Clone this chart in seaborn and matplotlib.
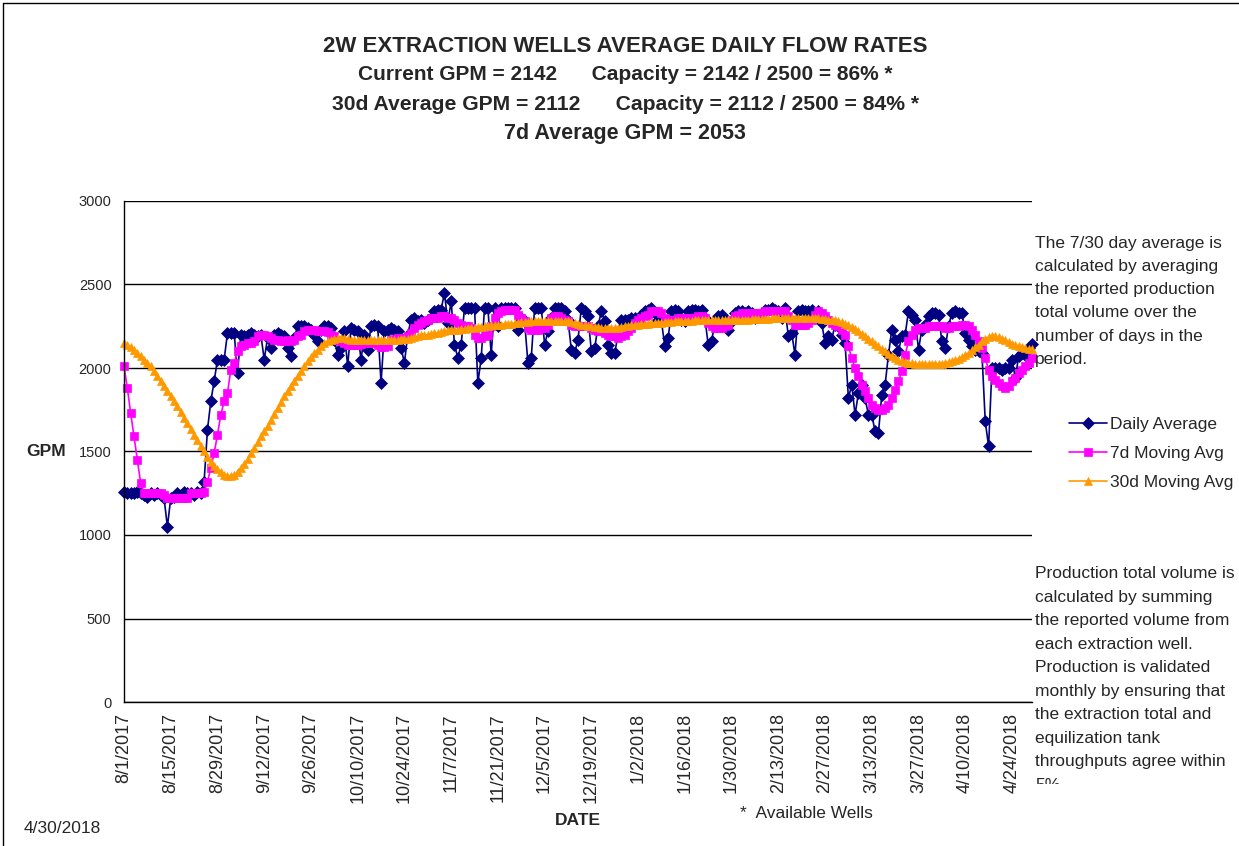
# 2W extraction wells - average daily flow rates (daily, 7d and 30d moving averages)

import numpy as np
import pandas as pd
import matplotlib
matplotlib.use("Agg")
import matplotlib.pyplot as plt
import seaborn as sns

# ------------------------------------------------------------
# DATA  (one value per day, 8/1/2017 .. 4/30/2018)
# ------------------------------------------------------------
daily_avg = [
    1260, 1250, 1250, 1250, 1260, 1250, 1240, 1230, 1250, 1240, 1250, 1240, 1220, 1050,
    1220, 1230, 1250, 1240, 1260, 1250, 1250, 1240, 1260, 1250, 1320, 1630, 1800, 1920,
    2050, 2050, 2050, 2210, 2210, 2210, 1970, 2200, 2190, 2200, 2210, 2200, 2190, 2200,
    2050, 2180, 2120, 2200, 2210, 2200, 2190, 2120, 2070, 2180, 2250, 2250, 2250, 2240,
    2230, 2200, 2160, 2230, 2250, 2250, 2240, 2170, 2080, 2120, 2220, 2010, 2240, 2230,
    2220, 2050, 2200, 2110, 2250, 2260, 2250, 1910, 2220, 2230, 2240, 2230, 2220, 2120,
    2030, 2200, 2290, 2300, 2280, 2290, 2270, 2290, 2300, 2340, 2350, 2350, 2450, 2270,
    2400, 2140, 2060, 2140, 2360, 2360, 2360, 2360, 1910, 2060, 2360, 2360, 2080, 2360,
    2250, 2360, 2360, 2360, 2360, 2360, 2230, 2300, 2280, 2030, 2060, 2360, 2360, 2360,
    2140, 2220, 2300, 2360, 2360, 2360, 2340, 2290, 2110, 2090, 2170, 2360, 2340, 2310,
    2100, 2120, 2250, 2340, 2280, 2140, 2090, 2090, 2200, 2290, 2290, 2290, 2300, 2300,
    2290, 2320, 2340, 2350, 2360, 2330, 2290, 2280, 2130, 2180, 2340, 2350, 2340, 2290,
    2280, 2340, 2350, 2350, 2340, 2350, 2300, 2140, 2160, 2270, 2310, 2320, 2280, 2230,
    2280, 2330, 2340, 2340, 2330, 2340, 2330, 2300, 2310, 2330, 2350, 2350, 2360, 2350,
    2340, 2300, 2360, 2190, 2210, 2080, 2340, 2350, 2340, 2340, 2350, 2330, 2340, 2270,
    2150, 2190, 2170, 2260, 2250, 2200, 2150, 1820, 1900, 1720, 1850, 1900, 1820, 1720,
    1720, 1620, 1610, 1840, 1900, 2080, 2230, 2170, 2100, 2190, 2200, 2340, 2320, 2290,
    2110, 2230, 2260, 2310, 2330, 2330, 2320, 2160, 2120, 2250, 2330, 2340, 2330, 2330,
    2210, 2170, 2130, 2110, 2100, 2090, 1680, 1530, 2000, 2000, 2000, 1990, 2000, 2000,
    2050, 1940, 2070, 2090, 2080, 2120, 2142,
]

avg_7d = [
    2010, 1880, 1730, 1590, 1450, 1310, 1250, 1250, 1250, 1250, 1250, 1250, 1240, 1220,
    1220, 1220, 1220, 1220, 1220, 1220, 1250, 1250, 1250, 1250, 1260, 1320, 1400, 1490,
    1600, 1720, 1800, 1850, 1990, 2030, 2100, 2130, 2140, 2150, 2150, 2160, 2190, 2200,
    2200, 2190, 2180, 2170, 2165, 2160, 2160, 2165, 2160, 2170, 2190, 2200, 2220, 2230,
    2230, 2225, 2220, 2220, 2220, 2215, 2200, 2190, 2170, 2160, 2150, 2140, 2135, 2135,
    2140, 2145, 2150, 2150, 2150, 2150, 2140, 2125, 2125, 2130, 2170, 2175, 2180, 2180,
    2180, 2190, 2210, 2240, 2260, 2270, 2280, 2290, 2300, 2300, 2300, 2310, 2310, 2300,
    2300, 2290, 2270, 2260, 2250, 2250, 2240, 2200, 2180, 2180, 2190, 2200, 2250, 2300,
    2330, 2340, 2350, 2350, 2350, 2350, 2320, 2300, 2280, 2240, 2230, 2230, 2230, 2240,
    2240, 2260, 2300, 2310, 2310, 2300, 2290, 2280, 2260, 2250, 2250, 2250, 2250, 2250,
    2240, 2230, 2220, 2220, 2210, 2200, 2190, 2190, 2180, 2190, 2200, 2220, 2240, 2270,
    2290, 2300, 2310, 2320, 2340, 2340, 2340, 2330, 2300, 2290, 2290, 2290, 2300, 2300,
    2300, 2300, 2300, 2300, 2310, 2310, 2300, 2270, 2250, 2240, 2240, 2240, 2250, 2260,
    2290, 2310, 2320, 2330, 2330, 2330, 2330, 2330, 2330, 2330, 2340, 2340, 2340, 2340,
    2340, 2340, 2340, 2310, 2290, 2260, 2260, 2260, 2260, 2270, 2290, 2320, 2340, 2330,
    2310, 2290, 2270, 2260, 2250, 2230, 2200, 2130, 2060, 2000, 1950, 1900, 1860, 1820,
    1780, 1760, 1750, 1750, 1760, 1780, 1820, 1870, 1920, 1980, 2080, 2160, 2200, 2230,
    2240, 2240, 2240, 2250, 2250, 2250, 2250, 2250, 2240, 2240, 2250, 2250, 2250, 2260,
    2260, 2250, 2230, 2200, 2160, 2120, 2060, 1990, 1950, 1930, 1910, 1890, 1880, 1890,
    1920, 1940, 1970, 1990, 2010, 2030, 2060,
]

avg_30d = [
    2150, 2140, 2125, 2110, 2090, 2070, 2050, 2030, 2010, 1985, 1955, 1925, 1895, 1865,
    1835, 1800, 1770, 1735, 1700, 1670, 1635, 1600, 1570, 1535, 1500, 1470, 1440, 1415,
    1395, 1375, 1360, 1355, 1355, 1360, 1380, 1400, 1425, 1455, 1490, 1520, 1555, 1590,
    1620, 1655, 1690, 1725, 1760, 1795, 1830, 1865, 1895, 1925, 1955, 1985, 2010, 2040,
    2065, 2090, 2110, 2130, 2150, 2160, 2170, 2175, 2180, 2180, 2180, 2175, 2170, 2165,
    2165, 2165, 2165, 2165, 2165, 2165, 2165, 2165, 2165, 2170, 2170, 2170, 2170, 2175,
    2175, 2175, 2180, 2185, 2190, 2195, 2195, 2200, 2205, 2210, 2210, 2215, 2220, 2225,
    2225, 2230, 2230, 2235, 2235, 2240, 2240, 2240, 2245, 2245, 2250, 2250, 2255, 2255,
    2260, 2260, 2265, 2265, 2265, 2270, 2270, 2275, 2275, 2275, 2280, 2280, 2280, 2280,
    2280, 2280, 2280, 2280, 2280, 2280, 2280, 2280, 2275, 2270, 2265, 2260, 2255, 2250,
    2250, 2245, 2245, 2240, 2240, 2240, 2240, 2240, 2240, 2245, 2250, 2250, 2255, 2260,
    2260, 2265, 2265, 2265, 2270, 2270, 2270, 2270, 2275, 2275, 2275, 2280, 2280, 2280,
    2280, 2280, 2280, 2285, 2285, 2285, 2285, 2285, 2285, 2285, 2285, 2285, 2290, 2290,
    2290, 2290, 2290, 2290, 2290, 2290, 2295, 2295, 2295, 2295, 2295, 2295, 2300, 2300,
    2300, 2300, 2300, 2300, 2300, 2300, 2300, 2300, 2300, 2300, 2300, 2300, 2300, 2295,
    2295, 2290, 2290, 2285, 2280, 2275, 2265, 2255, 2245, 2235, 2220, 2205, 2190, 2175,
    2160, 2145, 2130, 2115, 2100, 2085, 2070, 2060, 2050, 2040, 2035, 2030, 2030, 2025,
    2025, 2025, 2025, 2025, 2025, 2025, 2025, 2025, 2030, 2035, 2040, 2045, 2055, 2065,
    2075, 2090, 2105, 2125, 2140, 2160, 2175, 2185, 2190, 2190, 2185, 2175, 2165, 2155,
    2145, 2140, 2130, 2125, 2120, 2115, 2112,
]

date_ticks = [
    "8/1/2017", "8/15/2017", "8/29/2017", "9/12/2017", "9/26/2017",
    "10/10/2017", "10/24/2017", "11/7/2017", "11/21/2017", "12/5/2017",
    "12/19/2017", "1/2/2018", "1/16/2018", "1/30/2018", "2/13/2018",
    "2/27/2018", "3/13/2018", "3/27/2018", "4/10/2018", "4/24/2018",
]

title_lines = [
    "2W EXTRACTION WELLS AVERAGE DAILY FLOW RATES",
    "Current GPM = 2142      Capacity = 2142 / 2500 = 86% *",
    "30d Average GPM = 2112      Capacity = 2112 / 2500 = 84% *",
    "7d Average GPM = 2053",
]

note_avg = ("The 7/30 day average is\ncalculated by averaging\nthe reported production\n"
            "total volume over the\nnumber of days in the\nperiod.")
note_volume = ("Production total volume is\ncalculated by summing\nthe reported volume from\n"
               "each extraction well.\nProduction is validated\nmonthly by ensuring that\n"
               "the extraction total and\nequilization tank\nthroughputs agree within\n5%")

df = pd.DataFrame({
    "day": np.arange(len(daily_avg)),
    "Daily Average": daily_avg,
    "7d Moving Avg": avg_7d,
    "30d Moving Avg": avg_30d,
})

# ------------------------------------------------------------
# FIGURE
# ------------------------------------------------------------
sns.set_style("white")
plt.rcParams['font.family'] = ['Liberation Sans', 'DejaVu Sans']

W, H = 1239, 846
fig = plt.figure(figsize=(W / 100, H / 100), dpi=100)
ax = fig.add_axes([124 / W, (H - 702) / H, (1032 - 124) / W, (702 - 201) / H])

series = [
    ("Daily Average", "#000080", "D", 6.3),
    ("7d Moving Avg", "#FF00FF", "s", 5.5),
    ("30d Moving Avg", "#FF9900", "^", 6.0),
]
for name, color, marker, ms in series:
    sns.lineplot(data=df, x="day", y=name, ax=ax, color=color, linewidth=1.2,
                 marker=marker, markersize=ms, markeredgecolor=color,
                 markeredgewidth=0.5, label=name, clip_on=False)

ax.set_xlim(0, len(daily_avg) - 1)
ax.set_ylim(0, 3000)
ax.set_yticks(range(0, 3001, 500))
ax.set_xticks(range(0, 14 * len(date_ticks), 14))
ax.set_xticklabels(date_ticks, rotation=90, fontsize=13)
ax.tick_params(axis='y', labelsize=10.5, length=8, width=1, direction='out', pad=1)
ax.tick_params(axis='x', length=6, width=1, direction='out', pad=2)
ax.set_xlabel("")
ax.set_ylabel("")

ax.yaxis.grid(True, color='black', linewidth=1)
ax.xaxis.grid(False)
ax.set_axisbelow(True)
for side in ['top', 'right']:
    ax.spines[side].set_visible(False)
for side in ['left', 'bottom']:
    ax.spines[side].set_color('black')
    ax.spines[side].set_linewidth(1)

ax.legend(loc='upper left', bbox_to_anchor=(1069 / W, 1 - 417 / H),
          bbox_transform=fig.transFigure, frameon=False, fontsize=12.5,
          handlelength=2.2, handletextpad=0.15, labelspacing=0.8,
          borderpad=0, borderaxespad=0)

# ------------------------------------------------------------
# TEXT
# ------------------------------------------------------------
title_y = [46, 75, 104, 133]
title_size = [16, 15, 15.2, 15.5]
for line, y, fs in zip(title_lines, title_y, title_size):
    fig.text(625 / W, 1 - y / H, line, ha='center', va='center',
             fontsize=fs, fontweight='bold')

fig.text(46 / W, 1 - 451 / H, "GPM", ha='center', va='center',
         fontsize=12.5, fontweight='bold')
fig.text(578 / W, 1 - 820 / H, "DATE", ha='center', va='center',
         fontsize=12.5, fontweight='bold')
fig.text(740 / W, 1 - 813 / H, "*  Available Wells", ha='left', va='center',
         fontsize=12.5)
fig.text(24 / W, 1 - 828 / H, "4/30/2018", ha='left', va='center', fontsize=12.5)

fig.text(1035 / W, 1 - 236 / H, note_avg, ha='left', va='top',
         fontsize=12.5, linespacing=1.68)
fig.text(1035 / W, 1 - 566 / H, note_volume, ha='left', va='top',
         fontsize=12.5, linespacing=1.71)
# the note box cuts its last line off
fig.add_artist(plt.Rectangle((1033 / W, 0), 1 - 1033 / W, (H - 784) / H,
                             transform=fig.transFigure, facecolor='white',
                             edgecolor='none', zorder=10))

# chart area border (left and top edges)
fig.add_artist(plt.Line2D([3 / W, 3 / W], [0, 1 - 3 / H], transform=fig.transFigure,
                          color='black', linewidth=1))
fig.add_artist(plt.Line2D([3 / W, 1], [1 - 3 / H, 1 - 3 / H], transform=fig.transFigure,
                          color='black', linewidth=1))

fig.savefig("out.png", dpi=100)
